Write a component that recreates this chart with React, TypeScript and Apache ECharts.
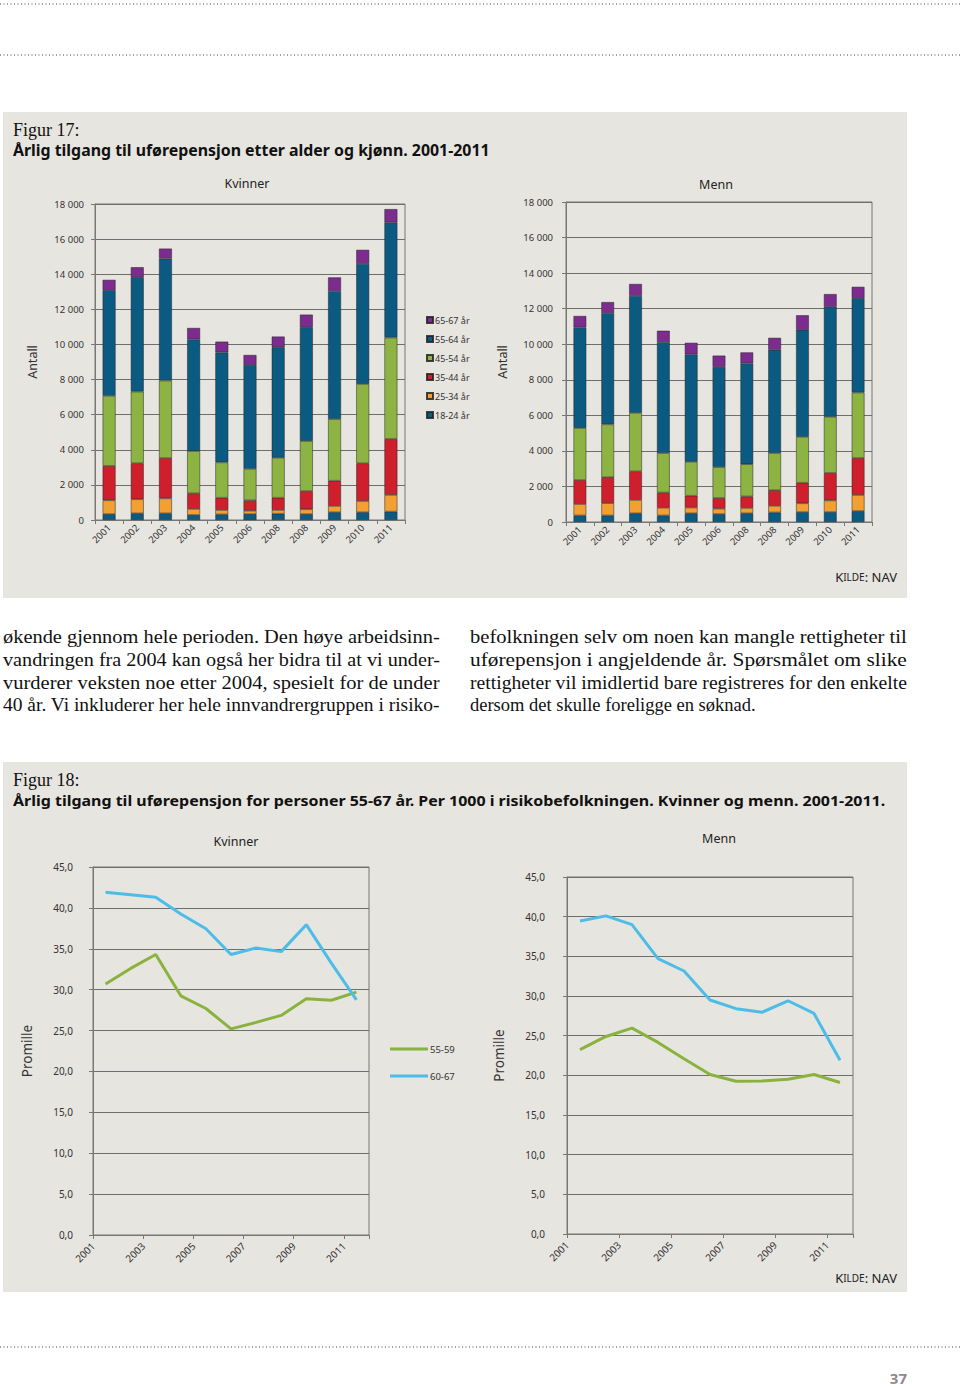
import React, { useEffect, useRef } from 'react';
import * as echarts from 'echarts';

// ---------- DATA ----------
const barYears = ['2001', '2002', '2003', '2004', '2005', '2006', '2008', '2008', '2009', '2010', '2011'];
const ageGroups = ['18-24 år', '25-34 år', '35-44 år', '45-54 år', '55-64 år', '65-67 år'];

// Kvinner (women), one array per age group
const kv18_24 = [340, 380, 380, 290, 320, 340, 360, 340, 440, 440, 480];
const kv25_34 = [780, 800, 850, 340, 250, 190, 210, 270, 360, 640, 950];
const kv35_44 = [1960, 2050, 2300, 890, 700, 590, 700, 1040, 1440, 2150, 3190];
const kv45_54 = [3990, 4080, 4410, 2410, 2010, 1790, 2280, 2850, 3510, 4520, 5770];
const kv55_64 = [6020, 6520, 6950, 6360, 6270, 5920, 6290, 6480, 7290, 6840, 6560];
const kv65_67 = [590, 570, 570, 650, 610, 570, 610, 720, 780, 800, 760];

// Menn (men)
const mn18_24 = [370, 370, 490, 370, 490, 450, 490, 540, 560, 560, 620];
const mn25_34 = [640, 690, 750, 430, 320, 300, 300, 370, 490, 650, 900];
const mn35_44 = [1350, 1460, 1610, 860, 670, 600, 650, 880, 1160, 1550, 2080];
const mn45_54 = [2930, 2970, 3290, 2220, 1910, 1740, 1810, 2090, 2580, 3160, 3680];
const mn55_64 = [5660, 6260, 6580, 6240, 6040, 5630, 5670, 5810, 6020, 6190, 5310];
const mn65_67 = [640, 620, 670, 640, 650, 640, 620, 670, 820, 710, 640];

// Figure 18 (promille)
const lineYears = ['2001', '2002', '2003', '2004', '2005', '2006', '2007', '2008', '2009', '2010', '2011'];
const lineTickYears = ['2001', '2002', '2003', '2004', '2005', '2006', '2007', '2008', '2009', '2010', '2011', '2012'];
const lineGroups = ['55-59', '60-67'];
const kvinner55_59 = [30.7, 32.6, 34.3, 29.25, 27.7, 25.2, 26.0, 26.85, 28.9, 28.7, 29.7];
const kvinner60_67 = [41.9, 41.6, 41.3, 39.25, 37.45, 34.3, 35.1, 34.65, 37.95, 33.25, 28.75];
const menn55_59 = [23.25, 24.9, 25.95, 24.15, 22.1, 20.1, 19.25, 19.3, 19.5, 20.1, 19.1];
const menn60_67 = [39.45, 40.1, 39.0, 34.7, 33.15, 29.5, 28.4, 27.95, 29.4, 27.8, 21.9];

const leftText = [
  'økende gjennom hele perioden. Den høye arbeidsinn-',
  'vandringen fra 2004 kan også her bidra til at vi under-',
  'vurderer veksten noe etter 2004, spesielt for de under',
  '40 år. Vi inkluderer her hele innvandrergruppen i risiko-',
];
const rightText = [
  'befolkningen selv om noen kan mangle rettigheter til',
  'uførepensjon i angjeldende år. Spørsmålet om slike',
  'rettigheter vil imidlertid bare registreres for den enkelte',
  'dersom det skulle foreligge en søknad.',
];

// ---------- STYLE ----------
const C_DARK = '#0b5a81';
const C_ORANGE = '#f3a033';
const C_RED = '#cf1f2d';
const C_GREEN = '#8db443';
const C_PURPLE = '#7b2c8e';
const ageColors = [C_DARK, C_ORANGE, C_RED, C_GREEN, C_DARK, C_PURPLE];
const LINE_GREEN = '#8ab23e';
const LINE_BLUE = '#4dbde8';
const PANEL = '#e7e5e0';
const GRIDC = '#6e6e6e';
const SANS = '"Noto Sans", "Open Sans", "Liberation Sans", sans-serif';
const SERIF = '"Liberation Serif", "Times New Roman", serif';

function measure(text: string, font: string): number {
  const ctx = document.createElement('canvas').getContext('2d');
  if (!ctx) return text.length * 7;
  ctx.font = font;
  return ctx.measureText(text).width;
}

const thousand = (v: number) => String(v).replace(/\B(?=(\d{3})+(?!\d))/g, ' ');
const comma1 = (v: number) => v.toFixed(1).replace('.', ',');

function barX(grid: number) {
  return {
    type: 'category',
    gridIndex: grid,
    data: barYears,
    boundaryGap: true,
    axisLine: { lineStyle: { color: '#777', width: 1 } },
    axisTick: { show: true, length: 4, lineStyle: { color: '#777' } },
    axisLabel: { rotate: 45, fontSize: 9.5, color: '#333', margin: 6, interval: 0, fontFamily: SANS },
  };
}
function barY(grid: number, nameGap: number, margin: number) {
  return {
    type: 'value',
    gridIndex: grid,
    min: 0,
    max: 18000,
    interval: 2000,
    name: 'Antall',
    nameLocation: 'middle',
    nameGap,
    nameTextStyle: { fontSize: 12.5, color: '#333', fontFamily: SANS },
    axisLine: { show: true, lineStyle: { color: '#777' } },
    axisTick: { show: true, length: 4, lineStyle: { color: '#777' } },
    axisLabel: { fontSize: 9.5, color: '#333', margin, formatter: thousand, fontFamily: SANS },
    splitLine: { lineStyle: { color: GRIDC, width: 1 } },
  };
}
function lineXData(grid: number) {
  return {
    type: 'category',
    gridIndex: grid,
    data: lineYears,
    boundaryGap: true,
    position: 'bottom',
    axisLine: { lineStyle: { color: '#777', width: 1 } },
    axisTick: { show: true, length: 4, lineStyle: { color: '#777' } },
    axisLabel: { show: false },
  };
}
function lineXLabels(grid: number) {
  return {
    type: 'category',
    gridIndex: grid,
    data: lineTickYears,
    boundaryGap: false,
    position: 'bottom',
    axisLine: { show: false },
    axisTick: { show: false },
    splitLine: { show: false },
    axisLabel: {
      rotate: 45, fontSize: 10, color: '#333', margin: 9, fontFamily: SANS,
      interval: (i: number) => i % 2 === 0 && i < 11,
    },
  };
}
function lineY(grid: number, nameGap: number, margin: number) {
  return {
    type: 'value',
    gridIndex: grid,
    min: 0,
    max: 45,
    interval: 5,
    name: 'Promille',
    nameLocation: 'middle',
    nameGap,
    nameTextStyle: { fontSize: 13.5, color: '#333', fontFamily: SANS },
    axisLine: { show: true, lineStyle: { color: '#777' } },
    axisTick: { show: true, length: 4, lineStyle: { color: '#777' } },
    axisLabel: { fontSize: 10, color: '#333', margin, formatter: comma1, fontFamily: SANS },
    splitLine: { lineStyle: { color: GRIDC, width: 1 } },
  };
}

export default function App() {
  const ref = useRef<HTMLDivElement>(null);
  useEffect(() => {
    if (!ref.current) return;
    const chart = echarts.init(ref.current, null, { renderer: 'svg', width: 960, height: 1387 });

    const kvData = [kv18_24, kv25_34, kv35_44, kv45_54, kv55_64, kv65_67];
    const mnData = [mn18_24, mn25_34, mn35_44, mn45_54, mn55_64, mn65_67];

    const barSeries: any[] = [];
    ageGroups.forEach((name, i) => {
      barSeries.push({
        type: 'bar', name, stack: 'kv', xAxisIndex: 0, yAxisIndex: 0, data: kvData[i],
        barWidth: '46%',
        itemStyle: { color: ageColors[i], borderColor: 'rgba(35,35,35,0.85)', borderWidth: 0.6 },
      });
    });
    ageGroups.forEach((name, i) => {
      barSeries.push({
        type: 'bar', name, stack: 'mn', xAxisIndex: 1, yAxisIndex: 1, data: mnData[i],
        barWidth: '46%',
        itemStyle: { color: ageColors[i], borderColor: 'rgba(35,35,35,0.85)', borderWidth: 0.6 },
      });
    });
    const lineSeries = [
      { name: lineGroups[0], data: kvinner55_59, x: 2, y: 2, c: LINE_GREEN },
      { name: lineGroups[1], data: kvinner60_67, x: 2, y: 2, c: LINE_BLUE },
      { name: lineGroups[0], data: menn55_59, x: 4, y: 3, c: LINE_GREEN },
      { name: lineGroups[1], data: menn60_67, x: 4, y: 3, c: LINE_BLUE },
    ].map((s) => ({
      type: 'line', name: s.name, data: s.data, xAxisIndex: s.x, yAxisIndex: s.y,
      symbol: 'none', itemStyle: { color: s.c }, lineStyle: { color: s.c, width: 3 },
    }));

    const elements: any[] = [];
    // page dotted rules
    [4, 55, 1347].forEach((y) => {
      elements.push({
        type: 'line', z: -5, shape: { x1: 0, y1: y, x2: 960, y2: y },
        style: { stroke: '#444', lineWidth: 1.2, lineDash: [1, 2.5] },
      });
    });
    // panels
    elements.push({ type: 'rect', z: -10, shape: { x: 3, y: 112, width: 904, height: 486 }, style: { fill: PANEL } });
    elements.push({ type: 'rect', z: -10, shape: { x: 3, y: 762, width: 904, height: 530 }, style: { fill: PANEL } });

    const fitText = (text: string, x: number, y: number, font: string, width: number | null, extra: any = {}) => {
      let scaleX = 1;
      if (width) {
        const w = measure(text, font);
        if (w > 0) scaleX = width / w;
      }
      elements.push({
        type: 'text', x, y, scaleX,
        style: { text, font, fill: '#111', verticalAlign: 'middle', align: 'left', ...extra },
      });
    };

    // figure titles
    fitText('Figur 17:', 13, 130, `18px ${SERIF}`, null);
    fitText('Årlig tilgang til uførepensjon etter alder og kjønn. 2001-2011', 13, 150, `bold 15.5px ${SANS}`, 477);
    fitText('Figur 18:', 13, 780, `18px ${SERIF}`, null);
    fitText('Årlig tilgang til uførepensjon for personer 55-67 år. Per 1000 i risikobefolkningen. Kvinner og menn. 2001-2011.', 13, 800, `bold 15px ${SANS}`, 873);

    // panel titles
    const sub = (text: string, x: number, y: number) =>
      elements.push({ type: 'text', x, y, style: { text, font: `12.5px ${SANS}`, fill: '#222', align: 'center', verticalAlign: 'middle' } });
    sub('Kvinner', 247, 183);
    sub('Menn', 716, 184);
    sub('Kvinner', 236, 841);
    sub('Menn', 719, 838);

    // source notes
    [577, 1278].forEach((y) => {
      elements.push({
        type: 'text', x: 897, y,
        style: {
          text: '{a|K}{b|ILDE}{a|: NAV}', align: 'right', verticalAlign: 'middle',
          rich: {
            a: { fontSize: 13, fontFamily: SANS, fill: '#222', color: '#222' },
            b: { fontSize: 10, fontFamily: SANS, fill: '#222', color: '#222' },
          },
        },
      });
    });

    // body text (justified lines)
    const bodyFont = `18.5px ${SERIF}`;
    leftText.forEach((t, i) => fitText(t, 3, 637 + i * 22.7, bodyFont, 437));
    rightText.forEach((t, i) => fitText(t, 470, 637 + i * 22.7, bodyFont, i === rightText.length - 1 ? null : 437));

    // page number
    elements.push({ type: 'text', x: 907, y: 1378, style: { text: '37', font: `bold 15px ${SANS}`, fill: '#8c8c8c', align: 'right', verticalAlign: 'middle' } });

    const option: any = {
      animation: false,
      backgroundColor: '#ffffff',
      textStyle: { fontFamily: SANS },
      grid: [
        { left: 95, top: 204, width: 310, height: 316, show: true, borderColor: '#777', borderWidth: 1, backgroundColor: 'transparent' },
        { left: 566, top: 202, width: 306, height: 320, show: true, borderColor: '#777', borderWidth: 1, backgroundColor: 'transparent' },
        { left: 93, top: 867, width: 276, height: 368, show: true, borderColor: '#777', borderWidth: 1, backgroundColor: 'transparent' },
        { left: 567, top: 877, width: 286, height: 357, show: true, borderColor: '#777', borderWidth: 1, backgroundColor: 'transparent' },
      ],
      xAxis: [barX(0), barX(1), lineXData(2), lineXLabels(2), lineXData(3), lineXLabels(3)],
      yAxis: [barY(0, 56, 11), barY(1, 57, 13), lineY(2, 59, 20), lineY(3, 61, 22)],
      legend: [
        {
          data: ageGroups.slice().reverse(),
          orient: 'vertical', left: 421, top: 309,
          itemWidth: 6, itemHeight: 6, itemGap: 7, icon: 'rect',
          textStyle: { fontSize: 9, color: '#333', lineHeight: 12, fontFamily: SANS, padding: [0, 0, 0, -3] },
          selectedMode: false,
        },
        {
          data: lineGroups,
          orient: 'vertical', left: 385, top: 1038,
          itemWidth: 38, itemHeight: 3, itemGap: 15, icon: 'rect',
          textStyle: { fontSize: 9.5, color: '#333', lineHeight: 12, fontFamily: SANS, padding: [0, 0, 0, -3] },
          selectedMode: false,
        },
      ],
      series: [...barSeries, ...lineSeries],
      graphic: { elements },
    };
    chart.setOption(option);
    return () => chart.dispose();
  }, []);

  return (
    <div
      ref={ref}
      style={{ position: 'absolute', left: 0, top: 0, width: 960, height: 1387, background: '#fff' }}
    />
  );
}
